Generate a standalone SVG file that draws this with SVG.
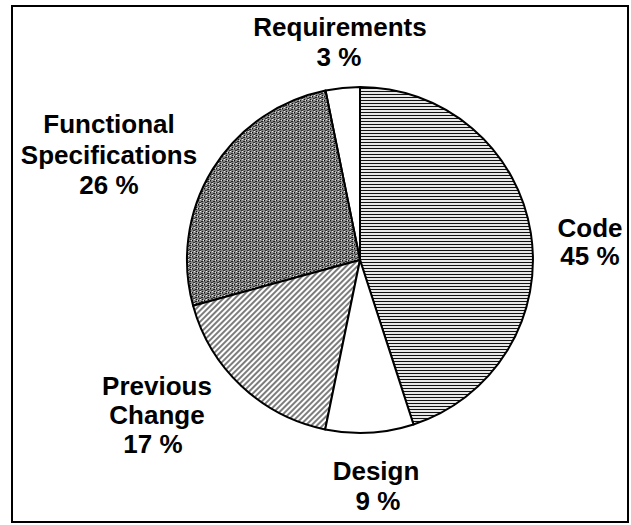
<svg xmlns="http://www.w3.org/2000/svg" width="631" height="525" viewBox="0 0 631 525">
<style>
.lbl{font-family:"Liberation Sans",Arial,Helvetica,sans-serif;font-weight:bold;font-size:26px;fill:#000;text-anchor:middle}
.slice{stroke:#000;stroke-width:2;stroke-linejoin:round}
</style>
<defs>
<pattern id="horiz" patternUnits="userSpaceOnUse" width="8" height="3">
<rect width="8" height="3" fill="#fff"/>
<line x1="0" y1="1.5" x2="8" y2="1.5" stroke="#111" stroke-width="1.2"/>
</pattern>
<pattern id="stipple" patternUnits="userSpaceOnUse" width="6" height="4">
<rect width="6" height="4" fill="#888"/>
<rect x="0" y="0" width="1" height="1" fill="#111"/>
<rect x="3" y="1" width="2" height="1" fill="#222"/>
<rect x="1" y="2" width="2" height="1" fill="#333"/>
<rect x="4" y="3" width="1" height="1" fill="#111"/>
<rect x="5" y="0" width="1" height="1" fill="#ddd"/>
<rect x="2" y="3" width="1" height="1" fill="#eee"/>
<rect x="0" y="1" width="1" height="1" fill="#555"/>
</pattern>
<pattern id="diag" patternUnits="userSpaceOnUse" width="4" height="4" patternTransform="rotate(45)">
<rect width="4" height="4" fill="#fff"/>
<line x1="1" y1="0" x2="1" y2="4" stroke="#111" stroke-width="1.1"/>
</pattern>
</defs>
<rect x="12" y="6" width="616" height="516" fill="#fff" stroke="#000" stroke-width="2"/>
<g id="pie">
<g id="code"><path class="slice" fill="url(#horiz)" d="M360,260 L360,87 A173,173 0 0,1 413.5,424.5 Z"/></g>
<g id="requirements"><path class="slice" fill="#fff" d="M360,260 L360,87 A173,173 0 0,0 325.5,90.5 Z"/></g>
<g id="functional"><path class="slice" fill="url(#stipple)" d="M360,260 L325.5,90.5 A173,173 0 0,0 193.1,305.7 Z"/></g>
<g id="previous"><path class="slice" fill="url(#diag)" d="M360,260 L193.1,305.7 A173,173 0 0,0 325.2,429.5 Z"/></g>
<g id="design"><path class="slice" fill="#fff" d="M360,260 L325.2,429.5 A173,173 0 0,0 413.5,424.5 Z"/></g>
</g>
<g id="labels">
<text class="lbl" x="340" y="36">Requirements</text>
<text class="lbl" x="339" y="66">3 %</text>
<text class="lbl" x="109" y="133">Functional</text>
<text class="lbl" x="109" y="164">Specifications</text>
<text class="lbl" x="109" y="194">26 %</text>
<text class="lbl" x="590" y="237">Code</text>
<text class="lbl" x="590" y="265">45 %</text>
<text class="lbl" x="157" y="395">Previous</text>
<text class="lbl" x="157" y="424">Change</text>
<text class="lbl" x="153" y="453">17 %</text>
<text class="lbl" x="376" y="480">Design</text>
<text class="lbl" x="378" y="510">9 %</text>
</g>
</svg>
